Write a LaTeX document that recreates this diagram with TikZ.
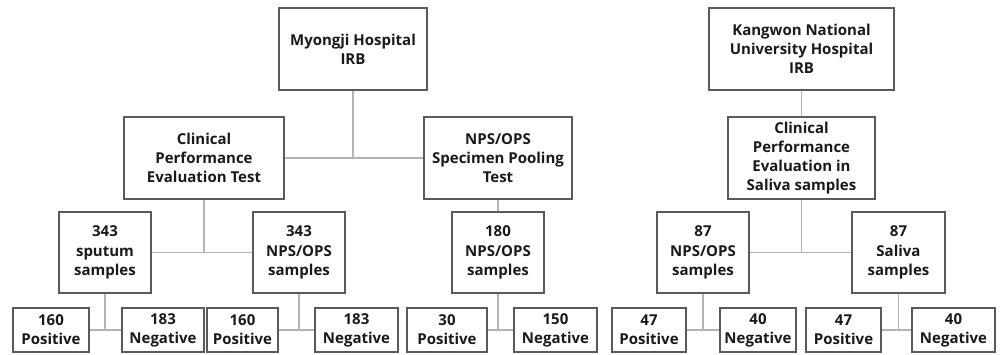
\documentclass[tikz,border=0pt]{standalone}
\usepackage{fontspec}
\setmainfont{Open Sans}
\definecolor{boxline}{HTML}{5A5A5A}
\definecolor{linkline}{HTML}{B4B4B4}
\definecolor{inkblack}{HTML}{1A1A1A}
\tikzset{
    box/.style={draw=boxline,line width=1.1pt,align=center,inner sep=0pt,
        text=inkblack,font=\fontsize{15}{19.2}\selectfont\bfseries},
    link/.style={draw=linkline,line width=1.1pt}
}
\begin{document}
\begin{tikzpicture}[x=1pt,y=-1pt]
                \useasboundingbox[fill=white] (0,0) rectangle (1001,354);
                \node[box,minimum width=148pt,minimum height=82pt] (mj) at (353,49) {Myongji Hospital\\IRB};
                \node[box,minimum width=185pt,minimum height=82pt] (kw) at (801.5,49) {Kangwon National\\University Hospital\\IRB};
                \node[box,minimum width=160pt,minimum height=82pt] (cpe) at (204,158) {Clinical\\Performance\\Evaluation Test};
                \node[box,minimum width=148pt,minimum height=82pt] (pool) at (498,158) {NPS/OPS\\Specimen Pooling\\Test};
                \node[box,minimum width=147pt,minimum height=82pt] (cps) at (801.5,158) {Clinical\\Performance\\Evaluation in\\Saliva samples};
                \foreach \nm/\cx/\bw/\txt in {sput/105/92/{343\\sputum\\samples},
                        npsa/299/92/{343\\NPS/OPS\\samples},
                        npsb/498/92/{180\\NPS/OPS\\samples},
                        npsc/703/92/{87\\NPS/OPS\\samples},
                        sal/898.5/93/{87\\Saliva\\samples}}{
                    \node[box,minimum width=\bw pt,minimum height=81pt] (\nm) at (\cx,252.5) {\txt};
                }
                \foreach \nm/\cx/\bw/\txt in {posa/51/76/{160\\Positive},
                        nega/163/82/{183\\Negative},
                        posb/242.5/71/{160\\Positive},
                        negb/356.5/83/{183\\Negative},
                        posc/447/80/{30\\Positive},
                        negc/555.5/83/{150\\Negative},
                        posd/649/74/{47\\Positive},
                        negd/758/76/{40\\Negative},
                        pose/843.5/75/{47\\Positive},
                        nege/953.5/83/{40\\Negative}}{
                    \node[box,minimum width=\bw pt,minimum height=44pt] (\nm) at (\cx,330) {\txt};
                }
                \coordinate (mjhub) at (cpe.east -| mj.south);
                \draw[link] (mj.south) -- (mjhub);
                \draw[link] (cpe.east) -- (pool.west);
                \draw[link] (kw.south) -- (cps.north);
                \draw[link] (pool.south) -- (npsb.north);
                \foreach \up/\lft/\rgt in {cpe/sput/npsa,cps/npsc/sal}{
                    \draw[link] (\lft.east) -- (\rgt.west);
                    \draw[link] (\up.south) -- (\up.south |- \lft.east);
                }
                \foreach \src/\lft/\rgt in {sput/posa/nega,npsa/posb/negb,npsb/posc/negc,npsc/posd/negd,sal/pose/nege}{
                    \draw[link] (\lft.east) -- (\rgt.west);
                    \draw[link] (\src.south) -- (\src.south |- \lft.east);
                }
\end{tikzpicture}
\end{document}
